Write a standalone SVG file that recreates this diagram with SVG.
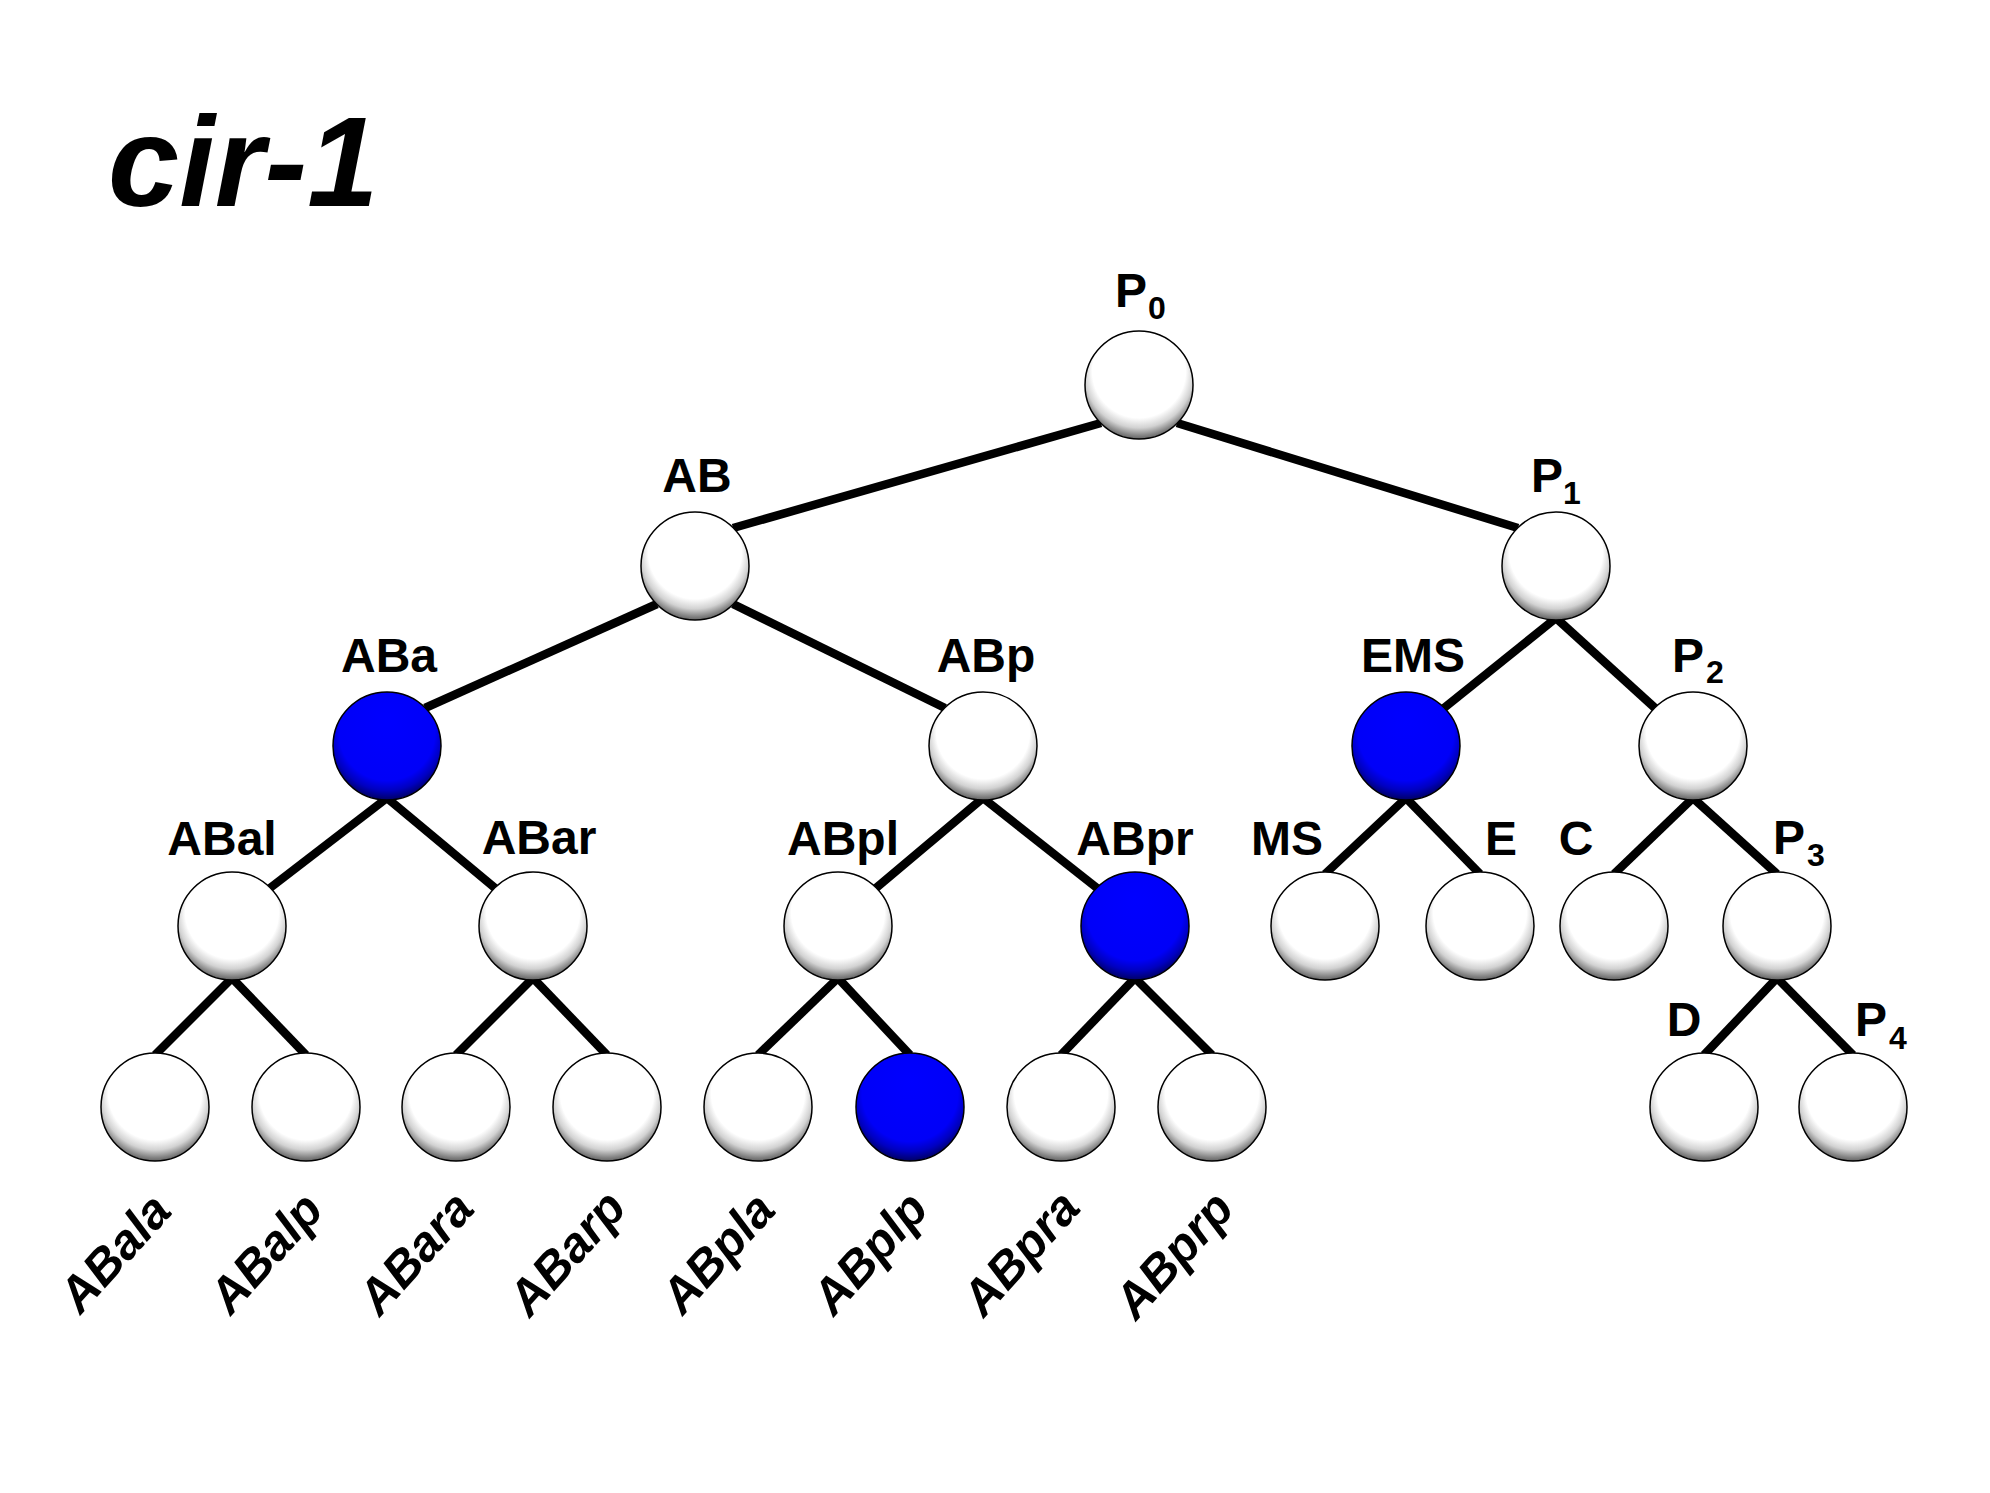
<svg xmlns="http://www.w3.org/2000/svg" width="1990" height="1493" viewBox="0 0 1990 1493">
<defs>
<radialGradient id="gw" cx="0.5" cy="0.42" r="0.6" fx="0.5" fy="0.25">
<stop offset="0" stop-color="#ffffff"/>
<stop offset="0.72" stop-color="#ffffff"/>
<stop offset="0.84" stop-color="#d2d2d2"/>
<stop offset="0.93" stop-color="#858585"/>
<stop offset="1" stop-color="#505050"/>
</radialGradient>
<radialGradient id="gb" cx="0.5" cy="0.42" r="0.6" fx="0.5" fy="0.25">
<stop offset="0" stop-color="#0000ff"/>
<stop offset="0.74" stop-color="#0000f8"/>
<stop offset="0.86" stop-color="#0000c0"/>
<stop offset="1" stop-color="#000050"/>
</radialGradient>
<style>
.w{fill:url(#gw);stroke:#000;stroke-width:1.5}
.b{fill:url(#gb);stroke:#000;stroke-width:1.5}
.lbl{font-family:"Liberation Sans",Arial,sans-serif;font-weight:bold;font-size:48px;fill:#000;text-anchor:middle}
.pl{font-family:"Liberation Sans",Arial,sans-serif;font-weight:bold;font-size:48px;fill:#000}
.sub{font-size:32px}
.rot{font-family:"Liberation Sans",Arial,sans-serif;font-weight:bold;font-style:italic;font-size:49px;fill:#000;text-anchor:middle}
.title{font-family:"Liberation Sans",Arial,sans-serif;font-weight:bold;font-style:italic;font-size:128px;fill:#000}
#edges line{stroke:#000;stroke-width:8.5;stroke-linecap:butt}
</style>
</defs>
<rect width="1990" height="1493" fill="#fff"/>
<text class="title" x="108" y="206">cir-1</text>
<g id="edges">
<line x1="1101" y1="423" x2="733" y2="528"/>
<line x1="1177" y1="423" x2="1518" y2="528"/>
<line x1="657" y1="604" x2="425" y2="708"/>
<line x1="733" y1="604" x2="945" y2="708"/>
<line x1="1556" y1="618" x2="1444" y2="708"/>
<line x1="1556" y1="618" x2="1655" y2="708"/>
<line x1="387" y1="798" x2="270" y2="888"/>
<line x1="387" y1="798" x2="495" y2="888"/>
<line x1="983" y1="798" x2="876" y2="888"/>
<line x1="983" y1="798" x2="1097" y2="888"/>
<line x1="1406" y1="798" x2="1325" y2="874"/>
<line x1="1406" y1="798" x2="1480" y2="874"/>
<line x1="1693" y1="798" x2="1614" y2="874"/>
<line x1="1693" y1="798" x2="1777" y2="874"/>
<line x1="232" y1="978" x2="155" y2="1055"/>
<line x1="232" y1="978" x2="306" y2="1055"/>
<line x1="533" y1="978" x2="456" y2="1055"/>
<line x1="533" y1="978" x2="607" y2="1055"/>
<line x1="838" y1="978" x2="758" y2="1055"/>
<line x1="838" y1="978" x2="910" y2="1055"/>
<line x1="1135" y1="978" x2="1061" y2="1055"/>
<line x1="1135" y1="978" x2="1212" y2="1055"/>
<line x1="1777" y1="978" x2="1704" y2="1055"/>
<line x1="1777" y1="978" x2="1853" y2="1055"/>
</g>
<g id="P0"><circle class="w" cx="1139" cy="385" r="54"/><text class="pl" x="1115" y="307">P<tspan class="sub" x="1148" y="319">0</tspan></text></g>
<g id="AB"><circle class="w" cx="695" cy="566" r="54"/><text class="lbl" x="697" y="492">AB</text></g>
<g id="P1"><circle class="w" cx="1556" cy="566" r="54"/><text class="pl" x="1531" y="492">P<tspan class="sub" x="1563" y="504">1</tspan></text></g>
<g id="ABa"><circle class="b" cx="387" cy="746" r="54"/><text class="lbl" x="389" y="672">ABa</text></g>
<g id="ABp"><circle class="w" cx="983" cy="746" r="54"/><text class="lbl" x="986" y="672">ABp</text></g>
<g id="EMS"><circle class="b" cx="1406" cy="746" r="54"/><text class="lbl" x="1413" y="672">EMS</text></g>
<g id="P2"><circle class="w" cx="1693" cy="746" r="54"/><text class="pl" x="1672" y="672">P<tspan class="sub" x="1706" y="683">2</tspan></text></g>
<g id="ABal"><circle class="w" cx="232" cy="926" r="54"/><text class="lbl" x="222" y="855">ABal</text></g>
<g id="ABar"><circle class="w" cx="533" cy="926" r="54"/><text class="lbl" x="539" y="854">ABar</text></g>
<g id="ABpl"><circle class="w" cx="838" cy="926" r="54"/><text class="lbl" x="843" y="855">ABpl</text></g>
<g id="ABpr"><circle class="b" cx="1135" cy="926" r="54"/><text class="lbl" x="1135" y="855">ABpr</text></g>
<g id="MS"><circle class="w" cx="1325" cy="926" r="54"/><text class="lbl" x="1287" y="855">MS</text></g>
<g id="E"><circle class="w" cx="1480" cy="926" r="54"/><text class="lbl" x="1501" y="855">E</text></g>
<g id="C"><circle class="w" cx="1614" cy="926" r="54"/><text class="lbl" x="1576" y="855">C</text></g>
<g id="P3"><circle class="w" cx="1777" cy="926" r="54"/><text class="pl" x="1773" y="854">P<tspan class="sub" x="1807" y="866">3</tspan></text></g>
<g id="ABala"><circle class="w" cx="155" cy="1107" r="54"/><text class="rot" transform="translate(127 1264) rotate(-48)">ABala</text></g>
<g id="ABalp"><circle class="w" cx="306" cy="1107" r="54"/><text class="rot" transform="translate(278 1264) rotate(-48)">ABalp</text></g>
<g id="ABara"><circle class="w" cx="456" cy="1107" r="54"/><text class="rot" transform="translate(428 1264) rotate(-48)">ABara</text></g>
<g id="ABarp"><circle class="w" cx="607" cy="1107" r="54"/><text class="rot" transform="translate(579 1264) rotate(-48)">ABarp</text></g>
<g id="ABpla"><circle class="w" cx="758" cy="1107" r="54"/><text class="rot" transform="translate(730 1264) rotate(-48)">ABpla</text></g>
<g id="ABplp"><circle class="b" cx="910" cy="1107" r="54"/><text class="rot" transform="translate(882 1264) rotate(-48)">ABplp</text></g>
<g id="ABpra"><circle class="w" cx="1061" cy="1107" r="54"/><text class="rot" transform="translate(1033 1264) rotate(-48)">ABpra</text></g>
<g id="ABprp"><circle class="w" cx="1212" cy="1107" r="54"/><text class="rot" transform="translate(1186 1266) rotate(-48)">ABprp</text></g>
<g id="D"><circle class="w" cx="1704" cy="1107" r="54"/><text class="lbl" x="1684" y="1036">D</text></g>
<g id="P4"><circle class="w" cx="1853" cy="1107" r="54"/><text class="pl" x="1855" y="1036">P<tspan class="sub" x="1889" y="1049">4</tspan></text></g>
</svg>
